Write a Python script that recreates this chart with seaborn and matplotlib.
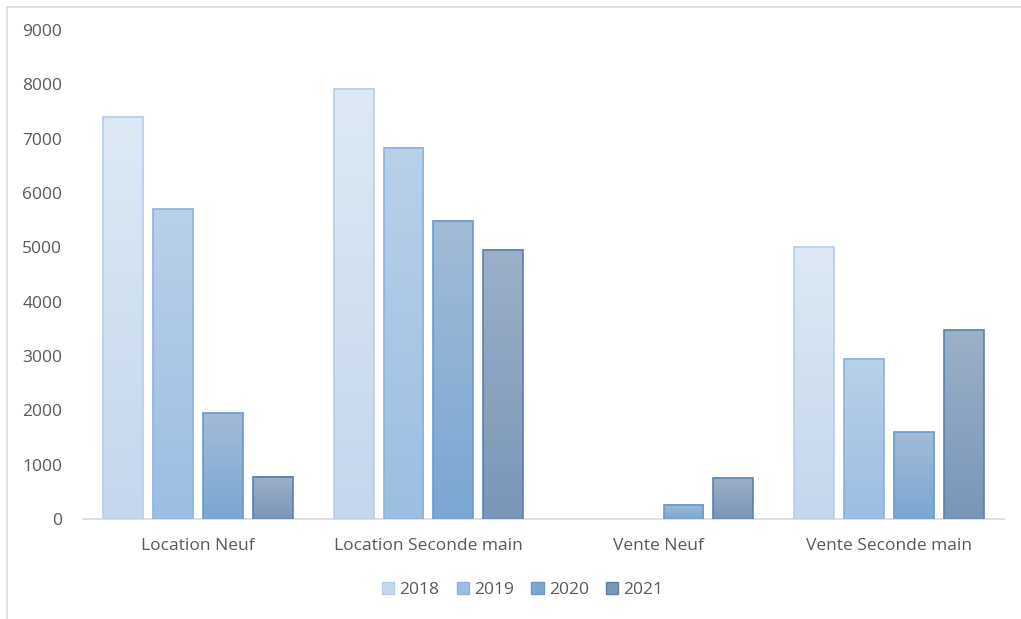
import numpy as np
import pandas as pd
import matplotlib
matplotlib.use('Agg')
import matplotlib.pyplot as plt
import seaborn as sns
from matplotlib.colors import LinearSegmentedColormap
from matplotlib.patches import Patch
from matplotlib.lines import Line2D

# ---------------- data ----------------
categories = ['Location Neuf', 'Location Seconde main', 'Vente Neuf', 'Vente Seconde main']
years = ['2018', '2019', '2020', '2021']
v2018 = [7400, 7920, 0, 5000]
v2019 = [5700, 6830, 0, 2950]
v2020 = [1950, 5490, 260, 1600]
v2021 = [780, 4960, 750, 3470]

# gradient (top, bottom) and edge colour per year
grad_top = ['#dde9f5', '#b9d0e9', '#a2bbd7', '#9cb0c8']
grad_bot = ['#c4d7ed', '#9cbee3', '#7aa7d3', '#7996b8']
edges = ['#b5cde8', '#8cb2dc', '#6b9ac8', '#5d81a8']

rows = []
for yr, vals in zip(years, [v2018, v2019, v2020, v2021]):
    for cat, v in zip(categories, vals):
        rows.append({'cat': cat, 'year': yr, 'value': v})
df = pd.DataFrame(rows)

sns.set_style('white')
plt.rcParams['font.family'] = ['Open Sans', 'DejaVu Sans']

fig = plt.figure(figsize=(10.21, 6.19), dpi=100)
ax = fig.add_axes([83/1021, 1-519/619, 921/1021, 489/619])

sns.barplot(data=df, x='cat', y='value', hue='year', order=categories, hue_order=years,
            palette=grad_bot, width=0.866, gap=0.2, ax=ax, legend=False)

# excel-like vertical gradients inside each bar
for i, cont in enumerate(ax.containers):
    cmap = LinearSegmentedColormap.from_list('g%d' % i, [grad_bot[i], grad_top[i]])
    for p in cont.patches:
        h = p.get_height()
        if h <= 0:
            p.set_visible(False)
            continue
        x0 = p.get_x()
        w = p.get_width()
        grad = np.linspace(0, 1, 100).reshape(-1, 1)
        ax.imshow(grad, extent=[x0, x0 + w, 0, h], origin='lower', aspect='auto',
                  cmap=cmap, zorder=2)
        p.set_facecolor('none')
        p.set_edgecolor(edges[i])
        p.set_linewidth(1.2)
        p.set_zorder(3)

ax.set_xlim(-0.5, 3.5)
ax.set_ylim(0, 9000)
ax.set_yticks(range(0, 9001, 1000))
ax.set_xlabel('')
ax.set_ylabel('')
for s in ['top', 'right', 'left']:
    ax.spines[s].set_visible(False)
ax.spines['bottom'].set_color('#d9d9d9')
ax.spines['bottom'].set_linewidth(1.2)
ax.tick_params(axis='y', length=0, pad=15, labelsize=12.5, labelcolor='#595959')
ax.tick_params(axis='x', length=0, pad=14, labelsize=12.5, labelcolor='#595959')

handles = [Patch(facecolor=c, edgecolor=e, label=y)
           for c, e, y in zip(grad_bot, edges, years)]
fig.legend(handles=handles, loc='center', bbox_to_anchor=(0.512, 1-590/619), ncol=4,
           frameon=False, fontsize=12.5, handlelength=0.7, handleheight=0.7,
           handletextpad=0.3, columnspacing=1.0, labelcolor='#595959')

# thin frame around the chart area
fig.add_artist(Line2D([7/1021, 7/1021], [0, 1-7/619], color='#d9d9d9', lw=1.2,
                      transform=fig.transFigure))
fig.add_artist(Line2D([7/1021, 1], [1-7/619, 1-7/619], color='#d9d9d9', lw=1.2,
                      transform=fig.transFigure))

fig.savefig('out.png', dpi=100, facecolor='white')
